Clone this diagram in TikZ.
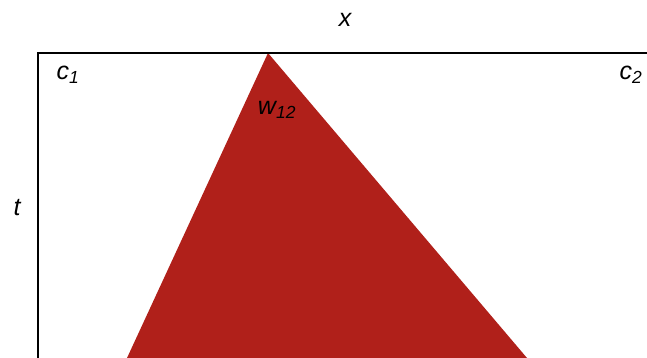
\documentclass[tikz,border=0pt]{standalone}
\usepackage{fontspec}
\setmainfont{Liberation Sans}
\definecolor{tri}{HTML}{B0201A}
\begin{document}
\begin{tikzpicture}[x=1pt,y=-1pt,
  lbl/.style={font=\fontsize{25}{28}\selectfont\itshape, inner sep=0pt},
  axis/.style={line width=1.4pt, black}]
\useasboundingbox (0,0) rectangle (647,358);
\coordinate (apex) at (268,53);
\coordinate (bl) at (127,358);
\coordinate (br) at (527,358);
\fill[tri] (apex) -- (bl) -- (br) -- cycle;
\coordinate (o) at (38,53);
\coordinate (xe) at (647,53);
\coordinate (ye) at (38,358);
\draw[axis] (xe) -- (o) -- (ye);
\node[lbl] (x) at (345,20) {x};
\node[lbl] (t) at (17,208) {t};
\node[lbl] (c1) at (68,75) {c\textsubscript{1}};
\node[lbl] (c2) at (631,75) {c\textsubscript{2}};
\node[lbl] (w) at (277,110) {w\textsubscript{12}};
\end{tikzpicture}
\end{document}
